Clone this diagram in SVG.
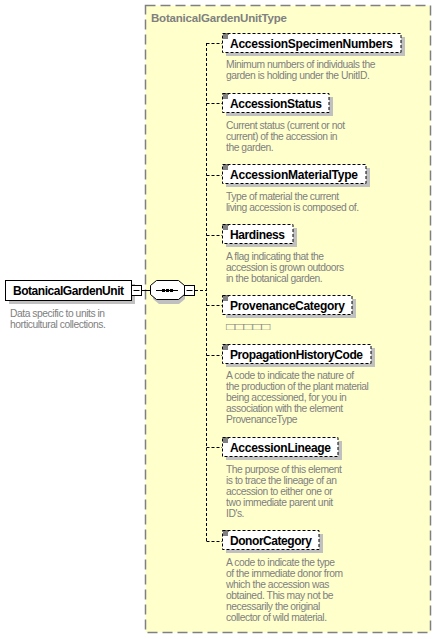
<svg xmlns="http://www.w3.org/2000/svg" width="436" height="639" viewBox="0 0 436 639">
<style>
.name{font-family:"Liberation Sans",Arial,sans-serif;font-weight:bold;font-size:12px;fill:#000}
.doc{font-family:"Liberation Sans",Arial,sans-serif;font-size:10.3px;letter-spacing:-0.45px;fill:#808080}
.title{font-family:"Liberation Sans",Arial,sans-serif;font-weight:bold;font-size:11.5px;fill:#808080}
.box{fill:#fff;stroke:#000;stroke-width:1}
.opt{stroke-dasharray:3,2}
.shadow{fill:#c0c0c0}
.conn{fill:none;stroke:#000;stroke-width:1}
.dash{stroke-dasharray:3,2}
.icon{stroke:#000;stroke-width:1}
</style>
<defs>
<g id="ico"><path class="icon" d="M0,0.5h6M0,2.5h5M0,4.5h5"/></g>
</defs>
<g id="type">
<rect x="145.5" y="5.5" width="285" height="627" fill="#ffffcc" stroke="#808080" stroke-width="1.5" stroke-dasharray="10,5"/>
<text class="title" x="151" y="22" textLength="136">BotanicalGardenUnitType</text>
</g>
<g id="connectors">
<path class="conn" d="M141,290.5H150"/>
<path class="conn dash" d="M195,290.5H206.5M206.5,43V541.5M206.5,43.5H222M206.5,103.5H222M206.5,175.5H222M206.5,235.5H222M206.5,305.5H222M206.5,355.5H222M206.5,447.5H222M206.5,541.5H222"/>
</g>
<g id="BotanicalGardenUnit">
<rect class="shadow" x="9" y="284" width="126" height="20"/>
<rect class="box" x="5.5" y="280.5" width="126" height="20"/>
<rect class="box" x="131.5" y="285.5" width="10" height="10"/>
<path class="conn" d="M133.5,290.5h6"/>
<text class="name" x="13" y="295" textLength="111">BotanicalGardenUnit</text>
<text class="doc" x="10" y="317">Data specific to units in</text>
<text class="doc" x="10" y="328">horticultural collections.</text>
</g>
<g id="sequence">
<path class="shadow" d="M159,284h20l6,5v10l-6,5h-20l-6,-5v-10z"/>
<path class="box" d="M156.5,280.5h22l6,5v9l-6,5h-22l-6,-5v-9z"/>
<path class="conn" d="M156,290.5h22"/>
<rect x="162" y="289" width="3" height="3" fill="#000"/>
<rect x="166" y="289" width="3" height="3" fill="#000"/>
<rect x="170" y="289" width="3" height="3" fill="#000"/>
<rect class="box" x="184.5" y="285.5" width="10" height="10"/>
<path class="conn" d="M186.5,290.5h6"/>
</g>
<g id="AccessionSpecimenNumbers">
<rect class="shadow" x="226" y="37" width="179" height="19"/>
<rect class="box opt" x="222.5" y="33.5" width="178.5" height="19"/>
<use href="#ico" x="223" y="33.5"/>
<text class="name" x="230" y="48" textLength="163">AccessionSpecimenNumbers</text>
<text class="doc" x="226" y="68">Minimum numbers of individuals the</text>
<text class="doc" x="226" y="79">garden is holding under the UnitID.</text>
</g>
<g id="AccessionStatus">
<rect class="shadow" x="226" y="97" width="107" height="19"/>
<rect class="box opt" x="222.5" y="93.5" width="106.5" height="19"/>
<use href="#ico" x="223" y="93.5"/>
<text class="name" x="230" y="108" textLength="92">AccessionStatus</text>
<text class="doc" x="226" y="129">Current status (current or not</text>
<text class="doc" x="226" y="140">current) of the accession in</text>
<text class="doc" x="226" y="151">the garden.</text>
</g>
<g id="AccessionMaterialType">
<rect class="shadow" x="226" y="168" width="144" height="19"/>
<rect class="box opt" x="222.5" y="164.5" width="143.5" height="19"/>
<use href="#ico" x="223" y="164.5"/>
<text class="name" x="230" y="179" textLength="128">AccessionMaterialType</text>
<text class="doc" x="226" y="200">Type of material the current</text>
<text class="doc" x="226" y="211">living accession is composed of.</text>
</g>
<g id="Hardiness">
<rect class="shadow" x="226" y="228" width="71" height="19"/>
<rect class="box opt" x="222.5" y="224.5" width="70.5" height="19"/>
<use href="#ico" x="223" y="224.5"/>
<text class="name" x="230" y="239" textLength="55">Hardiness</text>
<text class="doc" x="226" y="260">A flag indicating that the</text>
<text class="doc" x="226" y="271">accession is grown outdoors</text>
<text class="doc" x="226" y="282">in the botanical garden.</text>
</g>
<g id="ProvenanceCategory">
<rect class="shadow" x="226" y="299" width="130" height="19"/>
<rect class="box opt" x="222.5" y="295.5" width="129.5" height="19"/>
<use href="#ico" x="223" y="295.5"/>
<text class="name" x="230" y="310" textLength="115">ProvenanceCategory</text>
<text class="doc" x="226" y="330" textLength="44" lengthAdjust="spacingAndGlyphs" style="letter-spacing:0">□□□□□</text>
</g>
<g id="PropagationHistoryCode">
<rect class="shadow" x="226" y="348" width="149" height="19"/>
<rect class="box opt" x="222.5" y="344.5" width="148.5" height="19"/>
<use href="#ico" x="223" y="344.5"/>
<text class="name" x="230" y="359" textLength="133">PropagationHistoryCode</text>
<text class="doc" x="226" y="379">A code to indicate the nature of</text>
<text class="doc" x="226" y="390">the production of the plant material</text>
<text class="doc" x="226" y="401">being accessioned, for you in</text>
<text class="doc" x="226" y="412">association with the element</text>
<text class="doc" x="226" y="423">ProvenanceType</text>
</g>
<g id="AccessionLineage">
<rect class="shadow" x="226" y="441" width="116" height="19"/>
<rect class="box opt" x="222.5" y="437.5" width="115.5" height="19"/>
<use href="#ico" x="223" y="437.5"/>
<text class="name" x="230" y="452" textLength="101">AccessionLineage</text>
<text class="doc" x="226" y="473">The purpose of this element</text>
<text class="doc" x="226" y="484">is to trace the lineage of an</text>
<text class="doc" x="226" y="495">accession to either one or</text>
<text class="doc" x="226" y="506">two immediate parent unit</text>
<text class="doc" x="226" y="517">ID's.</text>
</g>
<g id="DonorCategory">
<rect class="shadow" x="226" y="534" width="97" height="19"/>
<rect class="box opt" x="222.5" y="530.5" width="96.5" height="19"/>
<use href="#ico" x="223" y="530.5"/>
<text class="name" x="230" y="545" textLength="82">DonorCategory</text>
<text class="doc" x="226" y="566">A code to indicate the type</text>
<text class="doc" x="226" y="577">of the immediate donor from</text>
<text class="doc" x="226" y="588">which the accession was</text>
<text class="doc" x="226" y="599">obtained. This may not be</text>
<text class="doc" x="226" y="610">necessarily the original</text>
<text class="doc" x="226" y="621">collector of wild material.</text>
</g>
</svg>
